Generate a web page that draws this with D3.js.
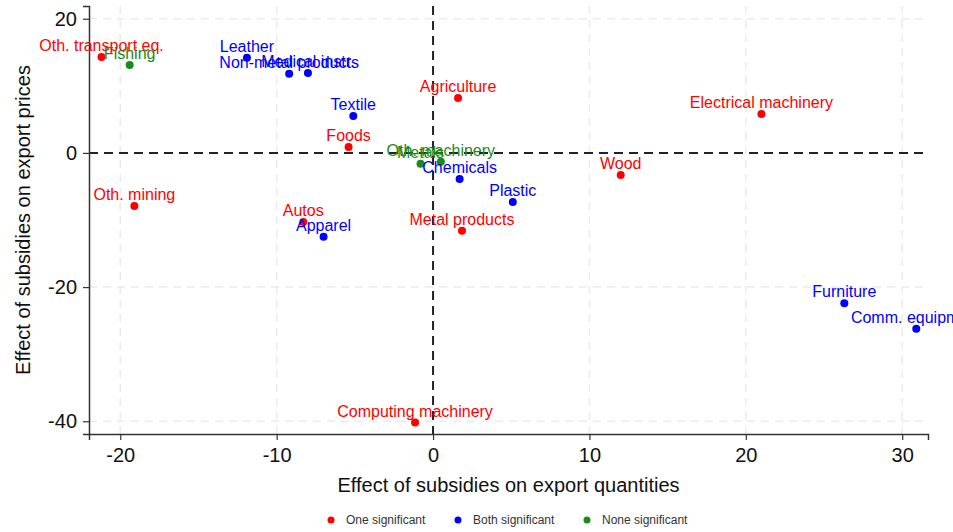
<!DOCTYPE html>
<html>
<head>
<meta charset="utf-8">
<script src="https://cdn.jsdelivr.net/npm/d3@7"></script>
<style>
  body { margin: 0; background: #fff; }
  svg { font-family: "Liberation Sans", Arial, sans-serif; }
</style>
</head>
<body>
<svg id="mainsvg" width="953" height="532"></svg>
<script>
// sectors and the two effects (quantities on x, prices on y)
const sectors = ['Oth. transport eq.', 'Fishing', 'Leather', 'Non-metal products', 'Medical instr.',
  'Textile', 'Foods', 'Oth. mining', 'Autos', 'Apparel', 'Agriculture', 'Oth. machinery', 'Metals',
  'Chemicals', 'Plastic', 'Metal products', 'Wood', 'Electrical machinery', 'Furniture',
  'Comm. equipment', 'Computing machinery']
const qtyEffect = [-21.2, -19.4, -11.9, -9.2, -8.0, -5.1, -5.4, -19.1, -8.3, -7.0, 1.6, 0.5, -0.8,
  1.7, 5.1, 1.85, 12.0, 21.0, 26.3, 30.9, -1.15]
const priceEffect = [14.3, 13.1, 14.2, 11.8, 11.9, 5.5, 0.9, -7.9, -10.3, -12.5, 8.2, -1.3, -1.6,
  -3.9, -7.3, -11.6, -3.3, 5.8, -22.4, -26.2, -40.2]
const significance = ['One', 'None', 'Both', 'Both', 'Both', 'Both', 'One', 'One', 'One', 'Both',
  'One', 'None', 'None', 'Both', 'Both', 'One', 'One', 'One', 'Both', 'Both', 'One']

const groups = ['One', 'Both', 'None']
const groupLabels = ['One significant', 'Both significant', 'None significant']
const xTicks = [-20, -10, 0, 10, 20, 30]
const yTicks = [-40, -20, 0, 20]

const color = d3.scaleOrdinal().domain(groups).range(['#ff0000', '#0000ff', '#1a8a1a'])

const plot = {left: 89, right: 928, top: 6, bottom: 434}
const x = d3.scaleLinear().domain([-22, 31.65]).range([plot.left, plot.right])
const y = d3.scaleLinear().domain([21.9, -41.9]).range([plot.top, plot.bottom])

const svg = d3.select('#mainsvg')
const g = svg.append('g')

// light dashed grid
g.selectAll('.vgrid').data(xTicks.filter(d => d !== 0)).enter().append('line')
  .attr('x1', d => x(d)).attr('x2', d => x(d))
  .attr('y1', plot.top).attr('y2', plot.bottom)
  .attr('stroke', '#ebebeb').attr('stroke-width', 1.5).attr('stroke-dasharray', '8,6')
g.selectAll('.hgrid').data(yTicks.filter(d => d !== 0)).enter().append('line')
  .attr('x1', plot.left).attr('x2', plot.right)
  .attr('y1', d => y(d)).attr('y2', d => y(d))
  .attr('stroke', '#ebebeb').attr('stroke-width', 1.5).attr('stroke-dasharray', '8,6')

// zero lines
g.append('line')
  .attr('x1', x(0)).attr('x2', x(0)).attr('y1', plot.top).attr('y2', plot.bottom)
  .attr('stroke', '#222').attr('stroke-width', 2).attr('stroke-dasharray', '9,6')
g.append('line')
  .attr('x1', plot.left).attr('x2', plot.right).attr('y1', y(0)).attr('y2', y(0))
  .attr('stroke', '#222').attr('stroke-width', 2).attr('stroke-dasharray', '9,6')

// axes (hyphen minus like the original, not the unicode minus)
const fmt = d => String(d)
const xAxis = g.append('g').attr('transform', `translate(0,${plot.bottom})`)
  .call(d3.axisBottom(x).tickValues(xTicks).tickSize(6).tickPadding(8).tickFormat(fmt))
const yAxis = g.append('g').attr('transform', `translate(${plot.left},0)`)
  .call(d3.axisLeft(y).tickValues(yTicks).tickSize(6).tickPadding(6).tickFormat(fmt))
;[xAxis, yAxis].forEach(a => {
  a.select('.domain').attr('stroke', '#333').attr('stroke-width', 1.5)
  a.selectAll('.tick line').attr('stroke', '#333').attr('stroke-width', 1.2)
  a.selectAll('.tick text').attr('fill', '#111').style('font-size', '20px')
    .style('font-family', '"Liberation Sans", Arial, sans-serif')
})
xAxis.selectAll('.tick text').attr('dy', '0.71em')

// axis titles
g.append('text').attr('x', (plot.left + plot.right) / 2).attr('y', 492)
  .attr('text-anchor', 'middle').attr('fill', '#111').style('font-size', '20px')
  .text('Effect of subsidies on export quantities')
g.append('text').attr('transform', `translate(30,${(plot.top + plot.bottom) / 2}) rotate(-90)`)
  .attr('text-anchor', 'middle').attr('fill', '#111').style('font-size', '20px')
  .text('Effect of subsidies on export prices')

// points + labels
const pts = sectors.map((s, i) => ({name: s, qx: qtyEffect[i], py: priceEffect[i], grp: significance[i]}))
g.selectAll('.dot').data(pts).enter().append('circle')
  .attr('cx', d => x(d.qx)).attr('cy', d => y(d.py)).attr('r', 4)
  .attr('fill', d => color(d.grp))
g.selectAll('.lbl').data(pts).enter().append('text')
  .attr('x', d => x(d.qx)).attr('y', d => y(d.py) - 6)
  .attr('text-anchor', 'middle').attr('fill', d => color(d.grp))
  .style('font-size', '16px')
  .text(d => d.name)

// legend
const legX = [331, 458, 587]
const leg = g.selectAll('.leg').data(groups).enter().append('g')
  .attr('transform', (d, i) => `translate(${legX[i]},520)`)
leg.append('circle').attr('r', 3.5).attr('fill', d => color(d))
leg.append('text').attr('x', 15).attr('dy', '0.35em').attr('fill', '#333')
  .style('font-size', '12px').text((d, i) => groupLabels[i])
</script>
</body>
</html>
